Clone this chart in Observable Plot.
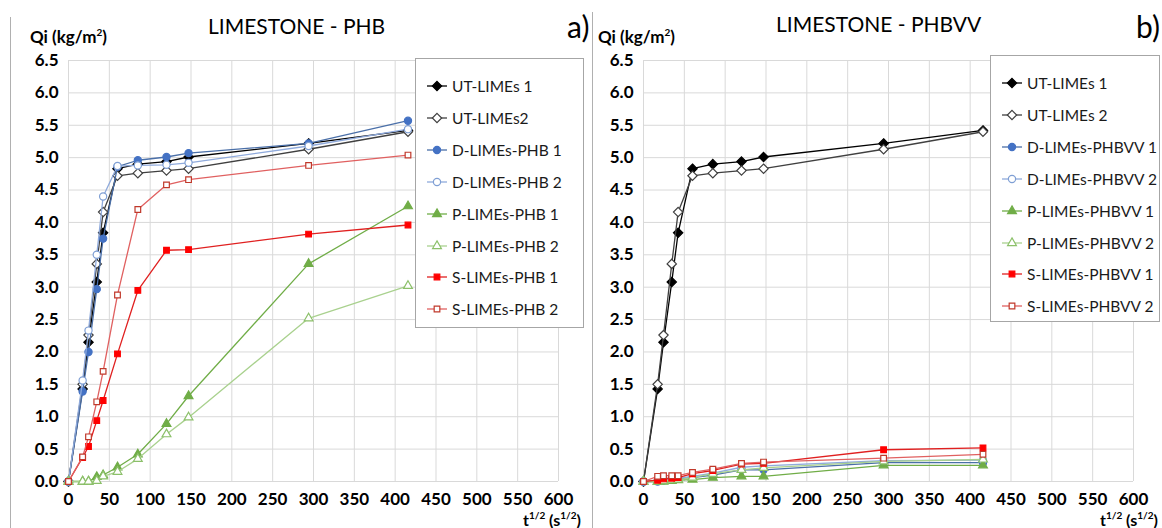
<!DOCTYPE html>
<html>
<head>
<meta charset="utf-8">
<script src="https://cdn.jsdelivr.net/npm/d3@7"></script>
<script src="https://cdn.jsdelivr.net/npm/@observablehq/plot@0.6"></script>
<style>
  html, body { margin: 0; padding: 0; background: #fff; }
  body { width: 1162px; height: 528px; position: relative; overflow: hidden;
         font-family: Lato, "Open Sans", sans-serif; color: #000; }
  .abs { position: absolute; white-space: nowrap; line-height: 1.2; }
  .title { font-size: 21px; }
  .tag { font-size: 30px; }
  .ylab { font-size: 17px; font-weight: bold; }
  .ylab sup { font-size: 10px; vertical-align: baseline; position: relative; top: -7px; }
  .xlab { font-size: 16px; font-weight: bold; line-height: 1; }
  .xlab sup { font-size: 10px; vertical-align: baseline; position: relative; top: -7px; }
  .legend { position: absolute; border: 1px solid #a6a6a6; background: #fff; }
  .legend .item { position: absolute; left: 10px; height: 20px; display: flex; align-items: center; font-size: 15.5px; color: #1a1a1a; white-space: nowrap; }
  .legend svg { margin-right: 4px; flex: none; }
  .vline { position: absolute; width: 1px; background: #b0b0b0; }
</style>
</head>
<body>
<div id="root"></div>
<script>
// ---- data ----
const times = [0, 17.3, 24.5, 34.6, 42.4, 60, 84.9, 120, 147, 294, 415.7];

const xTicks = [0, 50, 100, 150, 200, 250, 300, 350, 400, 450, 500, 550, 600];
const yTicks = [0, 0.5, 1, 1.5, 2, 2.5, 3, 3.5, 4, 4.5, 5, 5.5, 6, 6.5];

const utLimes1 = [0, 1.43, 2.15, 3.08, 3.84, 4.83, 4.90, 4.94, 5.01, 5.22, 5.42];
const utLimes2 = [0, 1.50, 2.26, 3.36, 4.16, 4.72, 4.76, 4.80, 4.83, 5.13, 5.40];

const dPhb1 = [0, 1.39, 2.00, 2.97, 3.75, 4.86, 4.96, 5.01, 5.07, 5.22, 5.57];
const dPhb2 = [0, 1.56, 2.33, 3.50, 4.40, 4.87, 4.88, 4.89, 4.92, 5.18, 5.44];
const pPhb1 = [0, 0.00, 0.00, 0.07, 0.10, 0.22, 0.42, 0.89, 1.32, 3.36, 4.25];
const pPhb2 = [0, 0.00, 0.00, 0.01, 0.08, 0.15, 0.35, 0.73, 0.99, 2.52, 3.02];
const sPhb1 = [0, 0.37, 0.54, 0.94, 1.25, 1.97, 2.95, 3.57, 3.58, 3.82, 3.96];
const sPhb2 = [0, 0.38, 0.69, 1.23, 1.70, 2.88, 4.20, 4.58, 4.66, 4.88, 5.04];

const dPhbvv1 = [0, 0.00, 0.02, 0.03, 0.04, 0.06, 0.10, 0.18, 0.18, 0.29, 0.29];
const dPhbvv2 = [0, 0.01, 0.03, 0.04, 0.05, 0.08, 0.13, 0.22, 0.24, 0.32, 0.33];
const pPhbvv1 = [0, 0.00, 0.00, 0.01, 0.02, 0.03, 0.06, 0.08, 0.08, 0.25, 0.25];
const pPhbvv2 = [0, 0.00, 0.01, 0.02, 0.03, 0.06, 0.12, 0.18, 0.21, 0.31, 0.34];
const sPhbvv1 = [0, 0.02, 0.04, 0.05, 0.06, 0.12, 0.17, 0.27, 0.28, 0.49, 0.52];
const sPhbvv2 = [0, 0.08, 0.09, 0.09, 0.09, 0.14, 0.19, 0.28, 0.30, 0.36, 0.42];

const namesA = ["UT-LIMEs 1", "UT-LIMEs2", "D-LIMEs-PHB 1", "D-LIMEs-PHB 2", "P-LIMEs-PHB 1", "P-LIMEs-PHB 2", "S-LIMEs-PHB 1", "S-LIMEs-PHB 2"];
const namesB = ["UT-LIMEs 1", "UT-LIMEs 2", "D-LIMEs-PHBVV 1", "D-LIMEs-PHBVV 2", "P-LIMEs-PHBVV 1", "P-LIMEs-PHBVV 2", "S-LIMEs-PHBVV 1", "S-LIMEs-PHBVV 2"];

// styles per series slot (same order in both charts)
const styles = [
  {symbol: "diamond2", fill: "#000000", stroke: "#000000", line: "#000000", r: 4.2},
  {symbol: "diamond2", fill: "#ffffff", stroke: "#404040", line: "#404040", r: 4.2},
  {symbol: "circle",   fill: "#4472c4", stroke: "#4472c4", line: "#4a6fa8", r: 3.6},
  {symbol: "circle",   fill: "#ffffff", stroke: "#7f9fd4", line: "#8faadc", r: 3.6},
  {symbol: "triangle2",fill: "#70ad47", stroke: "#70ad47", line: "#70ad47", r: 4.2},
  {symbol: "triangle2",fill: "#ffffff", stroke: "#8cc06a", line: "#a9d18e", r: 4.2},
  {symbol: "square2",  fill: "#ff0000", stroke: "#ff0000", line: "#e02020", r: 3.6},
  {symbol: "square2",  fill: "#ffffff", stroke: "#c0392b", line: "#e06060", r: 3.6}
];

const seriesA = [utLimes1, utLimes2, dPhb1, dPhb2, pPhb1, pPhb2, sPhb1, sPhb2];
const seriesB = [utLimes1, utLimes2, dPhbvv1, dPhbvv2, pPhbvv1, pPhbvv2, sPhbvv1, sPhbvv2];

const FONT = 'Lato, "Open Sans", sans-serif';
const root = document.getElementById("root");

function makeChart(values, left, width, marginLeft, marginRight) {
  const marks = [
    Plot.gridX(xTicks, {stroke: "#d9d9d9", strokeOpacity: 1, strokeWidth: 1}),
    Plot.gridY(yTicks, {stroke: "#d9d9d9", strokeOpacity: 1, strokeWidth: 1})
  ];
  values.forEach((vals, k) => {
    const st = styles[k];
    const d = vals.map((v, i) => ({t: times[i], q: v}));
    marks.push(Plot.line(d, {x: "t", y: "q", stroke: st.line, strokeWidth: 1.3}));
    marks.push(Plot.dot(d, {x: "t", y: "q", symbol: st.symbol, fill: st.fill, stroke: st.stroke, strokeWidth: 1.2, r: st.r}));
  });
  const svg = Plot.plot({
    width, height: 528,
    marginLeft, marginRight, marginTop: 60, marginBottom: 47,
    style: {fontFamily: FONT, fontSize: "17px", fontWeight: "bold", color: "#000", background: "transparent", overflow: "visible"},
    x: {domain: [0, 600], ticks: xTicks, tickSize: 0, tickPadding: 11, label: null, tickFormat: d3.format("d")},
    y: {domain: [0, 6.5], ticks: yTicks, tickSize: 0, tickPadding: 10, label: null, tickFormat: d3.format(".1f")},
    marks
  });
  svg.style.position = "absolute";
  svg.style.left = left + "px";
  svg.style.top = "0px";
  root.appendChild(svg);
}

makeChart(seriesA, 0, 590, 68, 32);
makeChart(seriesB, 592, 570, 51, 29);

function addText(html, cls, x, y) {
  const d = document.createElement("div");
  d.className = "abs " + cls;
  d.innerHTML = html;
  d.style.left = x + "px";
  d.style.top = y + "px";
  document.body.appendChild(d);
  return d;
}

// frame lines
function vline(x, y0, y1) {
  const d = document.createElement("div");
  d.className = "vline";
  d.style.left = x + "px"; d.style.top = y0 + "px"; d.style.height = (y1 - y0) + "px";
  document.body.appendChild(d);
}
vline(10, 17, 528);
vline(592, 12, 528);

addText("LIMESTONE - PHB", "title", 208, 13);
addText("LIMESTONE - PHBVV", "title", 776, 11);
addText("a)", "tag", 567, 8);
addText("b)", "tag", 1136, 8);
addText("Qi (kg/m<sup>2</sup>)", "ylab", 30, 27);
addText("Qi (kg/m<sup>2</sup>)", "ylab", 598, 27);
addText("t<sup>1/2</sup> (s<sup>1/2</sup>)", "xlab", 523, 512);
addText("t<sup>1/2</sup> (s<sup>1/2</sup>)", "xlab", 1100, 512);

function legendSymbol(st) {
  const sym = {diamond2: d3.symbolDiamond2, circle: d3.symbolCircle, triangle2: d3.symbolTriangle2, square2: d3.symbolSquare2}[st.symbol];
  const area = Math.PI * st.r * st.r;
  const path = d3.symbol(sym, area)();
  return `<svg width="22" height="14" viewBox="-11 -7 22 14">
    <line x1="-10" x2="10" y1="0" y2="0" stroke="${st.line}" stroke-width="1.3"/>
    <path d="${path}" fill="${st.fill}" stroke="${st.stroke}" stroke-width="1.2"/>
  </svg>`;
}

function legend(names, x, y, w, h) {
  const box = document.createElement("div");
  box.className = "legend";
  box.style.left = x + "px"; box.style.top = y + "px";
  box.style.width = w + "px"; box.style.height = h + "px";
  names.forEach((n, i) => {
    const it = document.createElement("div");
    it.className = "item";
    it.style.top = (17 + i * 31.9) + "px";
    it.innerHTML = legendSymbol(styles[i]) + "<span>" + n + "</span>";
    box.appendChild(it);
  });
  document.body.appendChild(box);
}
legend(namesA, 415, 58, 167, 268);
legend(namesB, 990, 55, 168, 265);
</script>
</body>
</html>
